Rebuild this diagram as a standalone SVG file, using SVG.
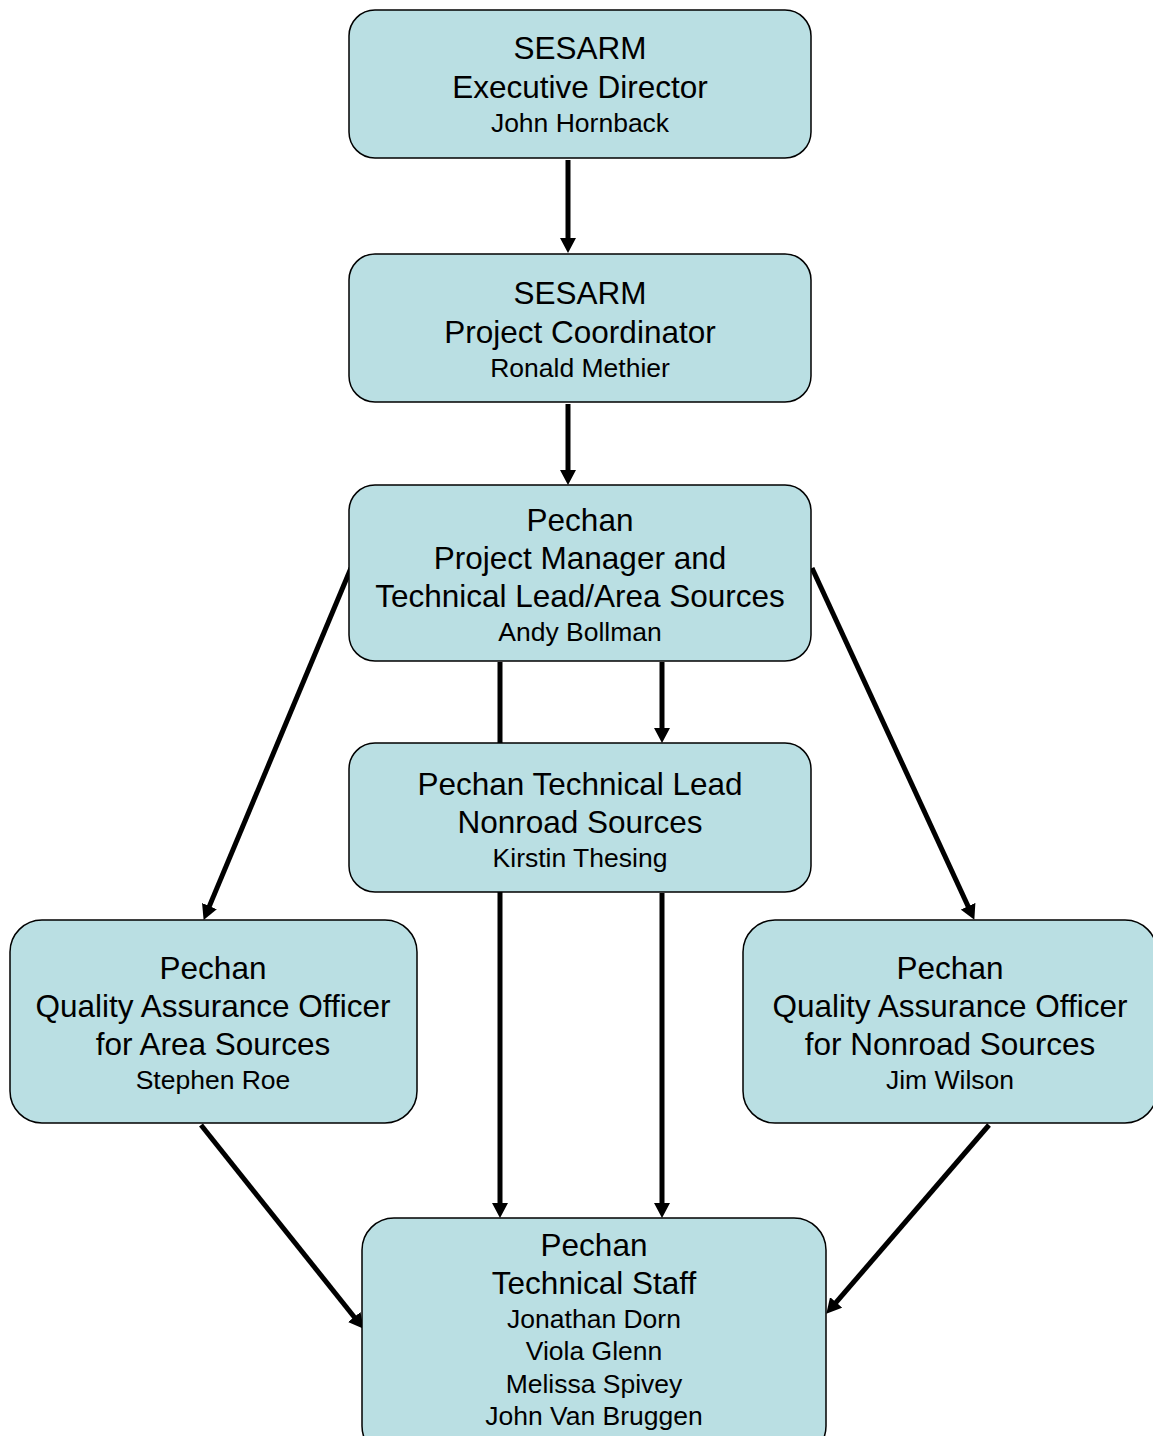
<svg xmlns="http://www.w3.org/2000/svg" width="1153" height="1436" viewBox="0 0 1153 1436">
<style>
.box{fill:#badfe3;stroke:#000;stroke-width:1.5}
.t{font-family:"Liberation Sans",Arial,sans-serif;font-size:31.5px;fill:#000;text-anchor:middle}
.n{font-family:"Liberation Sans",Arial,sans-serif;font-size:26.5px;fill:#000;text-anchor:middle}
.c{stroke:#000;stroke-width:5;fill:none;stroke-linecap:butt}
.a{marker-end:url(#arr)}
</style>
<defs>
<marker id="arr" markerUnits="userSpaceOnUse" markerWidth="15" markerHeight="16" refX="6" refY="8" orient="auto">
<path d="M0,0 L15,8 L0,16 z" fill="#000"/>
</marker>
</defs>
<rect width="1153" height="1436" fill="#fff"/>
<g id="connectors">
<line class="c a" x1="568" y1="160" x2="568" y2="244"/>
<line class="c a" x1="568" y1="404" x2="568" y2="476"/>
<line class="c a" x1="662" y1="662" x2="662" y2="734"/>
<line class="c a" x1="500" y1="662" x2="500" y2="1209"/>
<line class="c a" x1="662" y1="893" x2="662" y2="1209"/>
<line class="c a" x1="351" y1="568" x2="207.1" y2="911.6"/>
<line class="c a" x1="812" y1="568" x2="970.6" y2="911.7"/>
<line class="c a" x1="201" y1="1125" x2="358" y2="1321.7"/>
<line class="c a" x1="989" y1="1125" x2="832.2" y2="1306.9"/>
</g>
<g id="node-executive-director">
<rect class="box" x="349" y="10" width="462" height="148" rx="26"/>
<text class="t" x="580" y="59">SESARM</text>
<text class="t" x="580" y="98">Executive Director</text>
<text class="n" x="580" y="132">John Hornback</text>
</g>
<g id="node-project-coordinator">
<rect class="box" x="349" y="254" width="462" height="148" rx="26"/>
<text class="t" x="580" y="304">SESARM</text>
<text class="t" x="580" y="343">Project Coordinator</text>
<text class="n" x="580" y="377">Ronald Methier</text>
</g>
<g id="node-project-manager">
<rect class="box" x="349" y="485" width="462" height="176" rx="26"/>
<text class="t" x="580" y="531">Pechan</text>
<text class="t" x="580" y="569">Project Manager and</text>
<text class="t" x="580" y="607">Technical Lead/Area Sources</text>
<text class="n" x="580" y="641">Andy Bollman</text>
</g>
<g id="node-nonroad-lead">
<rect class="box" x="349" y="743" width="462" height="149" rx="26"/>
<text class="t" x="580" y="795">Pechan Technical Lead</text>
<text class="t" x="580" y="833">Nonroad Sources</text>
<text class="n" x="580" y="867">Kirstin Thesing</text>
</g>
<g id="node-qa-area">
<rect class="box" x="10" y="920" width="407" height="203" rx="32"/>
<text class="t" x="213" y="979">Pechan</text>
<text class="t" x="213" y="1017">Quality Assurance Officer</text>
<text class="t" x="213" y="1055">for Area Sources</text>
<text class="n" x="213" y="1089">Stephen Roe</text>
</g>
<g id="node-qa-nonroad">
<rect class="box" x="743" y="920" width="414" height="203" rx="32"/>
<text class="t" x="950" y="979">Pechan</text>
<text class="t" x="950" y="1017">Quality Assurance Officer</text>
<text class="t" x="950" y="1055">for Nonroad Sources</text>
<text class="n" x="950" y="1089">Jim Wilson</text>
</g>
<g id="node-technical-staff">
<rect class="box" x="362" y="1218" width="464" height="240" rx="32"/>
<text class="t" x="594" y="1256">Pechan</text>
<text class="t" x="594" y="1294">Technical Staff</text>
<text class="n" x="594" y="1328">Jonathan Dorn</text>
<text class="n" x="594" y="1360">Viola Glenn</text>
<text class="n" x="594" y="1393">Melissa Spivey</text>
<text class="n" x="594" y="1425">John Van Bruggen</text>
</g>
</svg>
